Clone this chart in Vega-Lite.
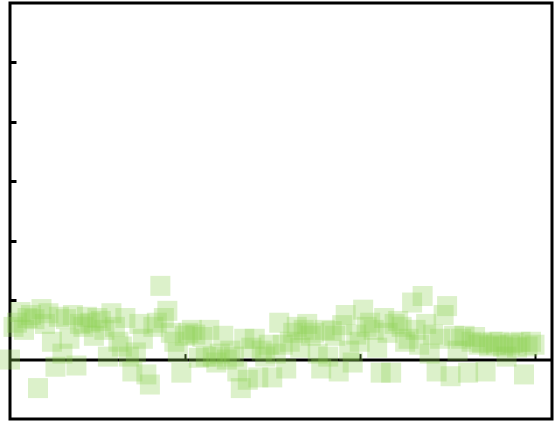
{
  "$schema": "https://vega.github.io/schema/vega-lite/v6.json",
  "width": 542,
  "height": 416,
  "autosize": "none",
  "padding": {"left": 10, "top": 3, "right": 2, "bottom": 3},
  "background": "white",
  "config": {"view": {"stroke": "black", "strokeWidth": 3}},
  "data": {"values": [
    {"x":0,"y":0.0},{"x":1,"y":0.55},{"x":2,"y":0.62},{"x":3,"y":0.8},{"x":4,"y":0.5},{"x":5,"y":0.7},{"x":6,"y":0.75},{"x":7,"y":0.68},{"x":8,"y":-0.48},{"x":9,"y":0.85},
    {"x":10,"y":0.6},{"x":11,"y":0.78},{"x":12,"y":0.3},{"x":13,"y":-0.12},{"x":14,"y":0.72},{"x":15,"y":0.1},{"x":16,"y":0.68},{"x":17,"y":0.35},{"x":18,"y":0.75},{"x":19,"y":-0.1},
    {"x":20,"y":0.6},{"x":21,"y":0.55},{"x":22,"y":0.72},{"x":23,"y":0.62},{"x":24,"y":0.4},{"x":25,"y":0.7},{"x":26,"y":0.65},{"x":27,"y":0.5},{"x":28,"y":0.05},{"x":29,"y":0.78},
    {"x":30,"y":0.55},{"x":31,"y":0.3},{"x":32,"y":0.22},{"x":33,"y":0.7},{"x":34,"y":0.05},{"x":35,"y":-0.2},{"x":36,"y":0.12},{"x":37,"y":0.6},{"x":38,"y":0.35},{"x":39,"y":-0.25},
    {"x":40,"y":-0.42},{"x":41,"y":0.55},{"x":42,"y":0.62},{"x":43,"y":1.24},{"x":44,"y":0.7},{"x":45,"y":0.82},{"x":46,"y":0.45},{"x":47,"y":0.3},{"x":48,"y":0.12},{"x":49,"y":-0.22},
    {"x":50,"y":0.4},{"x":51,"y":0.45},{"x":52,"y":0.5},{"x":53,"y":0.42},{"x":54,"y":0.03},{"x":55,"y":0.38},{"x":56,"y":0.05},{"x":57,"y":0.5},{"x":58,"y":0.05},{"x":59,"y":-0.05},
    {"x":60,"y":0.1},{"x":61,"y":0.4},{"x":62,"y":0.0},{"x":63,"y":0.15},{"x":64,"y":0.05},{"x":65,"y":-0.2},{"x":66,"y":-0.48},{"x":67,"y":0.35},{"x":68,"y":-0.34},{"x":69,"y":0.2},
    {"x":70,"y":0.35},{"x":71,"y":-0.3},{"x":72,"y":0.15},{"x":73,"y":0.05},{"x":74,"y":0.25},{"x":75,"y":-0.3},{"x":76,"y":0.1},{"x":77,"y":0.62},{"x":78,"y":0.25},{"x":79,"y":-0.15},
    {"x":80,"y":0.3},{"x":81,"y":0.45},{"x":82,"y":0.55},{"x":83,"y":0.2},{"x":84,"y":0.5},{"x":85,"y":0.6},{"x":86,"y":0.4},{"x":87,"y":0.45},{"x":88,"y":0.1},{"x":89,"y":-0.15},
    {"x":90,"y":0.5},{"x":91,"y":0.05},{"x":92,"y":0.48},{"x":93,"y":0.4},{"x":94,"y":-0.2},{"x":95,"y":0.58},{"x":96,"y":0.75},{"x":97,"y":0.15},{"x":98,"y":-0.05},{"x":99,"y":0.42},
    {"x":100,"y":0.3},{"x":101,"y":0.84},{"x":102,"y":0.55},{"x":103,"y":0.62},{"x":104,"y":0.5},{"x":105,"y":0.2},{"x":106,"y":-0.22},{"x":107,"y":0.7},{"x":108,"y":0.45},{"x":109,"y":-0.22},
    {"x":110,"y":0.6},{"x":111,"y":0.65},{"x":112,"y":0.55},{"x":113,"y":0.3},{"x":114,"y":0.35},{"x":115,"y":0.96},{"x":116,"y":0.5},{"x":117,"y":0.25},{"x":118,"y":1.07},{"x":119,"y":0.6},
    {"x":120,"y":0.1},{"x":121,"y":0.42},{"x":122,"y":-0.2},{"x":123,"y":0.35},{"x":124,"y":0.75},{"x":125,"y":0.9},{"x":126,"y":-0.28},{"x":127,"y":0.4},{"x":128,"y":0.15},{"x":129,"y":0.35},
    {"x":130,"y":0.4},{"x":131,"y":-0.22},{"x":132,"y":0.3},{"x":133,"y":0.38},{"x":134,"y":0.25},{"x":135,"y":0.28},{"x":136,"y":-0.2},{"x":137,"y":0.22},{"x":138,"y":0.3},{"x":139,"y":0.25},
    {"x":140,"y":0.3},{"x":141,"y":0.22},{"x":142,"y":0.05},{"x":143,"y":0.25},{"x":144,"y":0.28},{"x":145,"y":0.2},{"x":146,"y":0.3},{"x":147,"y":-0.25},{"x":148,"y":0.22},{"x":149,"y":0.3},{"x":150,"y":0.25}
  ]},
  "mark": {"type": "point", "shape": "square", "filled": true, "size": 400, "color": "#8BCF4F", "opacity": 0.3, "strokeWidth": 0, "clip": false},
  "encoding": {
    "x": {"field": "x", "type": "quantitative",
      "scale": {"domain": [0, 155], "nice": false, "zero": false},
      "axis": {"title": null, "labels": false, "grid": false, "offset": -59.4, "values": [50, 100, 150],
        "domain": true, "domainColor": "black", "domainWidth": 3, "ticks": true, "tickSize": -6, "tickColor": "black", "tickWidth": 2}},
    "y": {"field": "y", "type": "quantitative",
      "scale": {"domain": [-1, 6], "nice": false, "zero": false},
      "axis": {"title": null, "labels": false, "grid": false, "values": [1, 2, 3, 4, 5],
        "domain": false, "ticks": true, "tickSize": -6, "tickColor": "black", "tickWidth": 3}}
  }
}
